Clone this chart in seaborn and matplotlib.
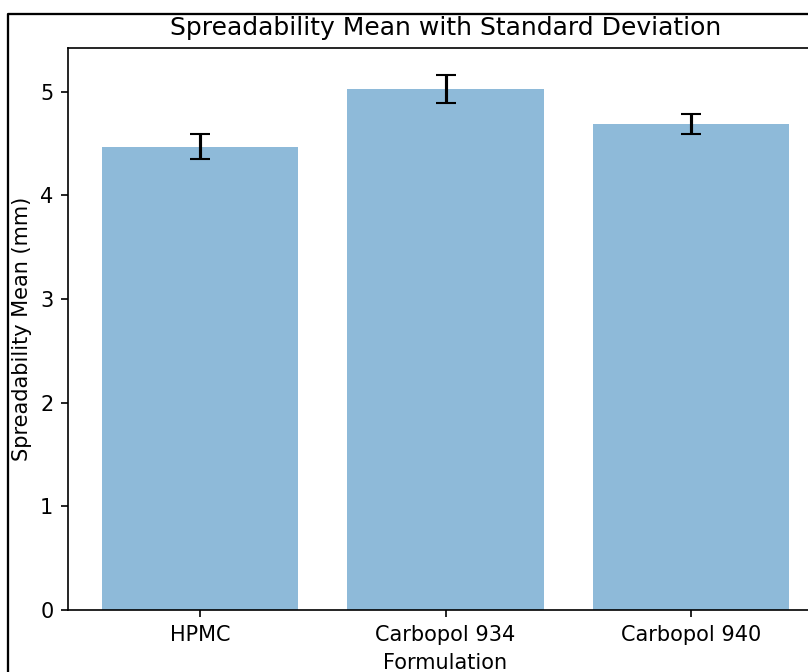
import matplotlib
matplotlib.use("Agg")
import matplotlib.pyplot as plt
import seaborn as sns
from matplotlib.lines import Line2D

# Data
formulations = ["HPMC", "Carbopol 934", "Carbopol 940"]
spread_mean = [4.47, 5.03, 4.69]
spread_std = [0.12, 0.135, 0.10]

dpi = 150
fig = plt.figure(figsize=(808 / dpi, 672 / dpi), dpi=dpi)
# axes runs a bit past the right edge, like the cropped screenshot
ax = fig.add_axes([68 / 808, 62 / 672, 755 / 808, 562 / 672])

sns.barplot(x=formulations, y=spread_mean, color="C0", alpha=0.5,
            saturation=1, width=0.8, ax=ax)
ax.errorbar(range(len(formulations)), spread_mean, yerr=spread_std,
            fmt="none", ecolor="black", capsize=5)

ax.set_xlim(-0.54, len(formulations) - 1 + 0.54)
ax.set_ylim(0, None)
ax.set_title("Spreadability Mean with Standard Deviation")
ax.set_xlabel("Formulation")
ax.set_ylabel("Spreadability Mean (mm)")

# screenshot frame at top-left
x0 = 8 / 808
y0 = 1 - 14 / 672
fig.add_artist(Line2D([x0, x0, 1], [0, y0, y0], color="black", lw=1.1,
                      transform=fig.transFigure))

fig.savefig("out.png", dpi=dpi)
